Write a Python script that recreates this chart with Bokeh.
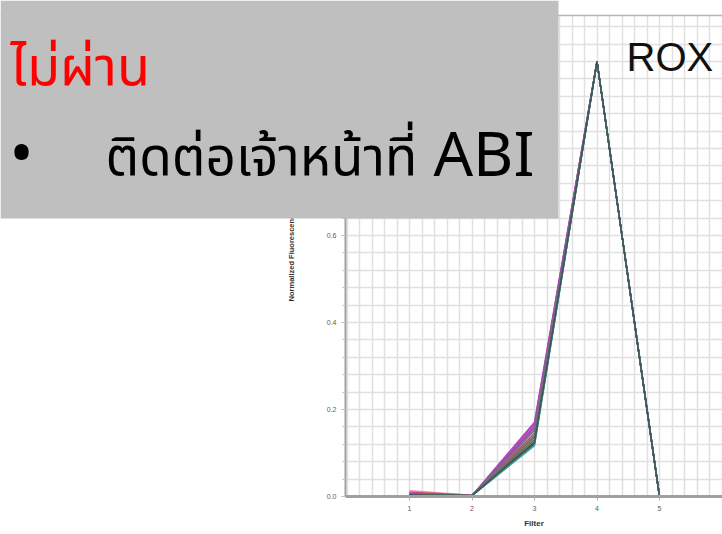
from bokeh.plotting import figure
from bokeh.models import (FixedTicker, SingleIntervalTicker, BoxAnnotation, Label, Span,
                          NumeralTickFormatter, Range1d)
from bokeh.embed import file_html
from bokeh.resources import INLINE

# ---- data ----
filters = [1, 2, 3, 4, 5]
y_ticks = [0.0, 0.2, 0.4, 0.6, 0.8, 1.0]
x_ticks = [1, 2, 3, 4, 5]

well_f1 = [0.013, 0.010, 0.008, 0.007, 0.007, 0.006, 0.006, 0.005, 0.005, 0.004, 0.004, 0.004, 0.003, 0.004]
well_f2 = [0.003, 0.003, 0.002, 0.002, 0.002, 0.002, 0.002, 0.002, 0.002, 0.002, 0.002, 0.002, 0.002, 0.002]
well_f3 = [0.150, 0.140, 0.171, 0.167, 0.162, 0.158, 0.153, 0.145, 0.136, 0.131, 0.126, 0.121, 0.117, 0.124]
well_f4 = [1.0, 1.0, 1.0, 1.0, 1.0, 1.0, 1.0, 1.0, 1.0, 1.0, 1.0, 1.0, 1.0, 1.0]
well_f5 = [0.0, 0.0, 0.0, 0.0, 0.0, 0.0, 0.0, 0.0, 0.0, 0.0, 0.0, 0.0, 0.0, 0.0]
well_colors = ["#f08a9a", "#d8465a", "#c43cc8", "#b444c0", "#a44cb4", "#9454a4", "#846094",
               "#76707c", "#6a7868", "#5e7058", "#54664e", "#4c5a4c", "#3aa0a0", "#44545c"]

title_text = "ไม่ผ่าน"
bullet_text = "ติดต่อเจ้าหน้าที่"
bullet_tail = "ABI"
dye_text = "ROX"

# chart area limits (data units)
X_LEFT, X_RIGHT = -0.024, 6.008
Y_BOTTOM, Y_TOP = 0.0, 1.1058

p = figure(width=722, height=534, output_backend="svg", toolbar_location=None,
           x_range=Range1d(-5.544, 6.008), y_range=Range1d(-0.08736, 1.14025),
           min_border_left=0, min_border_right=0, min_border_top=0, min_border_bottom=0,
           background_fill_color="white", border_fill_color="white",
           outline_line_color=None)

# grid
p.xgrid.ticker = SingleIntervalTicker(interval=0.2, num_minor_ticks=0)
p.ygrid.ticker = SingleIntervalTicker(interval=0.04, num_minor_ticks=0)
p.grid.grid_line_color = "#e0e0e0"
p.grid.grid_line_width = 1.5

# white masks outside the chart area
for kw in (dict(right=X_LEFT), dict(top=Y_BOTTOM - 0.001), dict(bottom=Y_TOP)):
    p.add_layout(BoxAnnotation(fill_color="white", fill_alpha=1.0, line_alpha=0,
                               level="underlay", **kw))
p.add_layout(Span(location=Y_TOP, dimension="width", line_color="#b4b4b4",
                  line_width=1.5, level="underlay"))

for i in range(len(well_colors)):
    ys = [well_f1[i], well_f2[i], well_f3[i], well_f4[i], well_f5[i]]
    p.line(filters, ys, line_color=well_colors[i], line_width=1.5)

# axes
xa, ya = p.xaxis[0], p.yaxis[0]
xa.fixed_location = Y_BOTTOM
xa.bounds = (X_LEFT, X_RIGHT)
ya.fixed_location = X_LEFT
ya.bounds = (Y_BOTTOM, Y_TOP)
xa.ticker = FixedTicker(ticks=x_ticks)
ya.ticker = FixedTicker(ticks=y_ticks, minor_ticks=[0.04 * k for k in range(28)])
ya.formatter = NumeralTickFormatter(format="0.0")
for ax in (xa, ya):
    ax.axis_line_color = "#a0a0a0"
    ax.axis_line_width = 2
    ax.major_tick_line_color = "#b0b0b0"
    ax.minor_tick_line_color = "#c0c0c0"
    ax.major_tick_in = 0
    ax.major_tick_out = 4
    ax.minor_tick_in = 0
    ax.minor_tick_out = 3
    ax.major_label_text_font = "Liberation Sans"
    ax.major_label_text_font_size = "7px"
    ax.major_label_text_color = "#606060"
    ax.axis_label_text_font = "Liberation Sans"
    ax.axis_label_text_font_style = "bold"
    ax.axis_label_text_color = "#303030"
xa.axis_line_width = 3
xa.major_label_standoff = 6
ya.major_label_standoff = 5
xa.axis_label = "Filter"
xa.axis_label_text_font_size = "8px"
xa.axis_label_standoff = 4
ya.axis_label = "Normalized Fluorescence"
ya.axis_label_text_font_size = "7.5px"
ya.axis_label_standoff = 28

p.add_layout(Label(x=626, y=56, x_units="canvas", y_units="canvas", text=dye_text,
                   text_font="Liberation Sans", text_font_size="40px", text_color="#111111",
                   text_baseline="alphabetic", level="overlay"))

# slide overlay
p.add_layout(BoxAnnotation(left=0, right=558, top=0, bottom=218,
                           left_units="canvas", right_units="canvas",
                           top_units="canvas", bottom_units="canvas",
                           fill_color="#bfbfbf", fill_alpha=1.0, line_alpha=0,
                           level="overlay"))
p.add_layout(Label(x=10, y=68, x_units="canvas", y_units="canvas", text=title_text,
                   text_font="Noto Sans Thai, Noto Sans", text_font_size="54px",
                   text_color="#ff0000", text_baseline="alphabetic", level="overlay"))
p.add_layout(Label(x=21, y=150, x_units="canvas", y_units="canvas", text="•",
                   text_font="Noto Sans", text_font_size="64px", text_align="center",
                   text_color="#000000", text_baseline="alphabetic", level="overlay"))
p.add_layout(Label(x=105, y=158, x_units="canvas", y_units="canvas", text=bullet_text,
                   text_font="Noto Sans Thai, Noto Sans", text_font_size="53px",
                   text_color="#000000", text_baseline="alphabetic", level="overlay"))
p.add_layout(Label(x=433, y=151, x_units="canvas", y_units="canvas", text=bullet_tail,
                   text_font="Noto Sans", text_font_size="62px",
                   text_color="#000000", text_baseline="alphabetic", level="overlay"))

open("out.html", "w").write(file_html(p, INLINE))
